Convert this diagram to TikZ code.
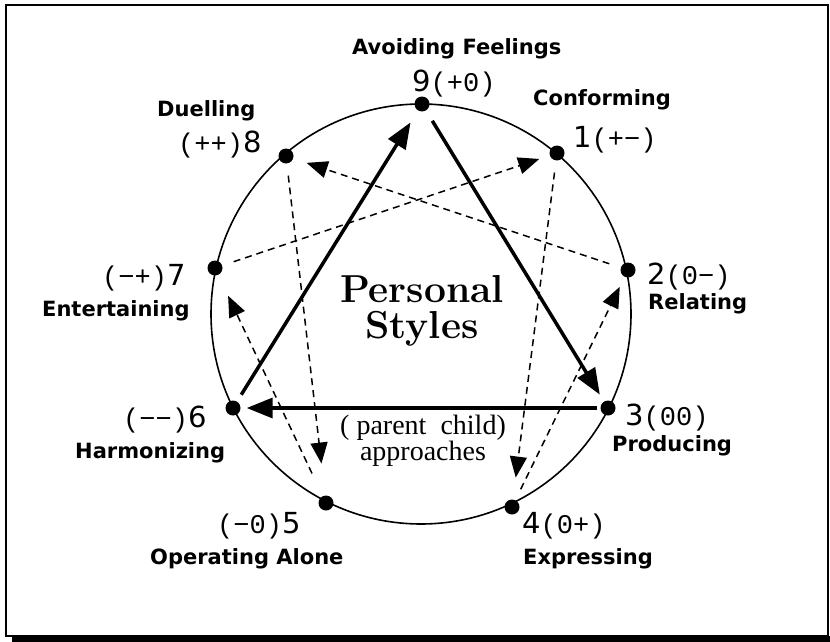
\documentclass[tikz,border=0pt]{standalone}
\usepackage{fontspec}
\usepackage{tikz}
\usetikzlibrary{
	positioning,
	arrows.meta
}
\newfontfamily\namefont{DejaVu Sans}
\newfontfamily\numfont{DejaVu Sans}
\newfontfamily\sgnfont{Liberation Mono}
\newfontfamily\notefont{Liberation Serif}
\newcommand{\sgn}[1]{{\sgnfont\fontsize{27}{28}\selectfont #1}}
\tikzset{
	dot/.style={circle, fill=black, inner sep=0pt, minimum size=15pt},
	stylename/.style={font=\namefont\bfseries\fontsize{21}{23}\selectfont, inner sep=0pt, anchor=base west},
	pointlabel/.style={font=\numfont\fontsize{29}{30}\selectfont, inner sep=0pt, anchor=base west},
	titletext/.style={font=\bfseries\fontsize{39}{40}\selectfont, inner sep=0pt, anchor=base},
	notetext/.style={font=\notefont\fontsize{28}{25}\selectfont, inner sep=0pt, align=center},
	solidarrow/.style={line width=3.5pt, -{Triangle[length=26pt,width=20pt]}},
	dasharrow/.style={line width=1.5pt, dash pattern=on 7pt off 5pt, -{Triangle[length=21pt,width=17pt]}, shorten <=12pt}
}

\begin{document}
\begin{tikzpicture}[x=1pt,y=-1pt]
				
				\useasboundingbox (0,0) rectangle (830,642);
				
				% frame with its shadow
				\draw[line width=1.5pt] (6,5) rectangle (828,636);
				\fill (12,636) rectangle (830,642);
				
				% the ring
				\draw[line width=1.6pt] (421,314) circle[radius=210];
				
				% the nine points
				\node[dot] (p9) at (422,104) {};
				\node[dot] (p1) at (557,153) {};
				\node[dot] (p2) at (628,270) {};
				\node[dot] (p3) at (608,408) {};
				\node[dot] (p4) at (512,507) {};
				\node[dot] (p5) at (326,503) {};
				\node[dot] (p6) at (233,408) {};
				\node[dot] (p7) at (215,268) {};
				\node[dot] (p8) at (286,156) {};
				
				% numbers and signs
				\node[pointlabel] (lab9) at (412,92) {9\sgn{(+0)}};
				\node[pointlabel] (lab1) at (573,147) {1\sgn{(+−)}};
				\node[pointlabel] (lab2) at (647,284) {2\sgn{(0−)}};
				\node[pointlabel] (lab3) at (625,425) {3\sgn{(00)}};
				\node[pointlabel] (lab4) at (522,533) {4\sgn{(0+)}};
				\node[pointlabel] (lab5) at (217,533) {\sgn{(−0)}5};
				\node[pointlabel] (lab6) at (123,427) {\sgn{(−−)}6};
				\node[pointlabel] (lab7) at (102,285) {\sgn{(−+)}7};
				\node[pointlabel] (lab8) at (178,152) {\sgn{(++)}8};
				
				% style names
				\node[stylename] (name9) at (352,55) {Avoiding Feelings};
				\node[stylename] (name1) at (533,106) {Conforming};
				\node[stylename] (name2) at (648,309) {Relating};
				\node[stylename] (name3) at (612,451) {Producing};
				\node[stylename] (name4) at (523,564) {Expressing};
				\node[stylename] (name5) at (150,564) {Operating Alone};
				\node[stylename] (name6) at (75,458) {Harmonizing};
				\node[stylename] (name7) at (42,316) {Entertaining};
				\node[stylename] (name8) at (157,116) {Duelling};
				
				% centre texts
				\node[titletext] (title1) at (422,302) {Personal};
				\node[titletext] (title2) at (422,338) {Styles};
				\node[notetext] (note) at (423,441) {( parent\ \ child)\\approaches};
				
				% inner triangle
				\draw[solidarrow, shorten <=8pt, shorten >=14pt] (p6) -- (p9);
				\draw[solidarrow, shorten <=12pt, shorten >=8pt] (p9) -- (p3);
				\draw[solidarrow, shorten <=3pt, shorten >=6pt] (p3) -- (p6);
				
				% hexad
				\draw[dasharrow, shorten >=11pt] (p7) -- (p1);
				\draw[dasharrow, shorten >=22pt] (p1) -- (p4);
				\draw[dasharrow, shorten >=11pt] (p4) -- (p2);
				\draw[dasharrow, shorten >=14pt] (p2) -- (p8);
				\draw[dasharrow, shorten >=32pt] (p8) -- (p5);
				\draw[dasharrow, shorten <=25pt, shorten >=23pt] (p5) -- (p7);
				
			\end{tikzpicture}
\end{document}
